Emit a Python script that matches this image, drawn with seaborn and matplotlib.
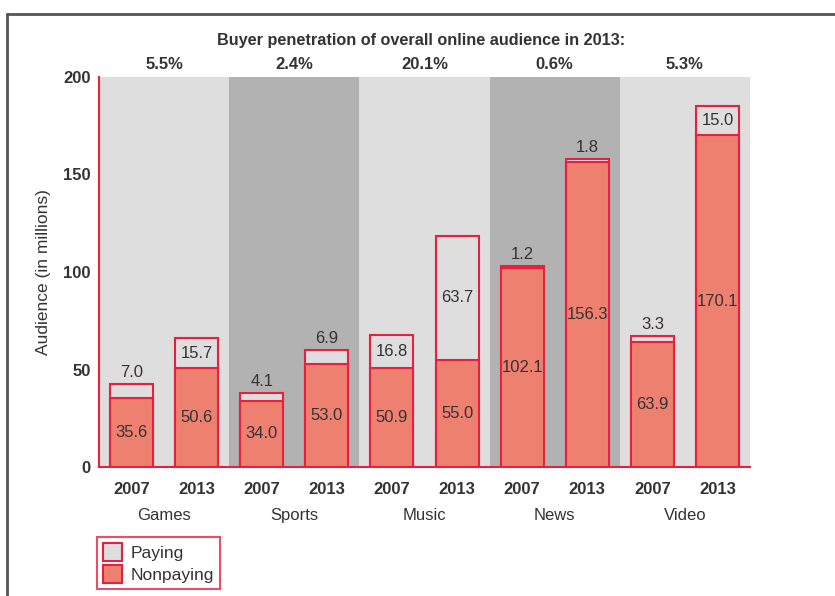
import matplotlib.pyplot as plt
import pandas as pd
import seaborn as sns
from matplotlib.lines import Line2D
from matplotlib.patches import Patch
from matplotlib.transforms import blended_transform_factory

categories = ["Games", "Sports", "Music", "News", "Video"]
years = ["2007", "2013"]
penetration = ["5.5%", "2.4%", "20.1%", "0.6%", "5.3%"]
nonpaying = [35.6, 50.6, 34.0, 53.0, 50.9, 55.0, 102.1, 156.3, 63.9, 170.1]
paying = [7.0, 15.7, 4.1, 6.9, 16.8, 63.7, 1.2, 1.8, 3.3, 15.0]

RED = "#e8203f"
SALMON = "#ee8070"
LIGHT = "#dedede"
DARK = "#b2b2b2"
TEXT = "#333333"
FS = 12

rows = []
for i, cat in enumerate(categories):
    for j, yr in enumerate(years):
        k = 2 * i + j
        rows.append({"slot": f"{cat} {yr}", "year": yr, "category": cat,
                     "nonpaying": nonpaying[k], "paying": paying[k],
                     "total": nonpaying[k] + paying[k]})
df = pd.DataFrame(rows)
order = list(df["slot"])

sns.set_theme(style="white")
plt.rcParams["font.family"] = ["Liberation Sans", "DejaVu Sans"]

fig = plt.figure(figsize=(8.35, 5.96), dpi=100)
ax = fig.add_axes([99 / 835, 1 - 467 / 596, (750 - 99) / 835, (467 - 77) / 596])

# alternating category bands
for i in range(len(categories)):
    ax.axvspan(2 * i - 0.5, 2 * i + 1.5, color=LIGHT if i % 2 == 0 else DARK, lw=0, zorder=0)

sns.barplot(data=df, x="slot", y="total", order=order, color=LIGHT, width=0.66,
            edgecolor=RED, linewidth=1.5, saturation=1, ax=ax, zorder=2)
sns.barplot(data=df, x="slot", y="nonpaying", order=order, color=SALMON, width=0.66,
            edgecolor=RED, linewidth=1.5, saturation=1, ax=ax, zorder=3)

for k, r in df.iterrows():
    ax.text(k, r["nonpaying"] / 2, f"{r['nonpaying']:.1f}", ha="center", va="center",
            fontsize=FS, color=TEXT, zorder=4)
    if r["paying"] >= 10:
        ax.text(k, r["nonpaying"] + r["paying"] / 2, f"{r['paying']:.1f}", ha="center",
                va="center", fontsize=FS, color=TEXT, zorder=4)
    else:
        ax.text(k, r["total"] + 2, f"{r['paying']:.1f}", ha="center", va="bottom",
                fontsize=FS, color=TEXT, zorder=4)

ax.set_xlim(-0.5, len(order) - 0.5)
ax.set_ylim(0, 200)
ax.set_yticks([0, 50, 100, 150, 200])
ax.set_yticklabels(["0", "50", "100", "150", "200"], fontweight="bold", fontsize=FS, color=TEXT)
ax.set_xticks(range(len(order)))
ax.set_xticklabels(df["year"], fontweight="bold", fontsize=FS, color=TEXT)
ax.tick_params(axis="both", length=0)
ax.tick_params(axis="x", pad=11)
ax.tick_params(axis="y", pad=6)
ax.set_xlabel("")
ax.set_ylabel("Audience (in millions)", fontsize=12.5, color=TEXT, labelpad=9)

for side in ["top", "right"]:
    ax.spines[side].set_visible(False)
for side in ["left", "bottom"]:
    ax.spines[side].set_color(RED)
    ax.spines[side].set_linewidth(1.5)
    ax.spines[side].set_zorder(5)

trans = blended_transform_factory(ax.transData, ax.transAxes)
for i, cat in enumerate(categories):
    ax.text(2 * i + 0.5, -0.125, cat, transform=trans, ha="center", va="center",
            fontsize=FS, color=TEXT)
    ax.text(2 * i + 0.5, 1.033, penetration[i], transform=trans, ha="center", va="center",
            fontsize=FS, fontweight="bold", color=TEXT)

fig.text(421 / 835, 1 - 40 / 596, "Buyer penetration of overall online audience in 2013:",
         ha="center", va="center", fontsize=11.7, fontweight="bold", color=TEXT)

handles = [Patch(facecolor=LIGHT, edgecolor=RED, linewidth=1.5, label="Paying"),
           Patch(facecolor=SALMON, edgecolor=RED, linewidth=1.5, label="Nonpaying")]
leg = fig.legend(handles=handles, loc="lower left", bbox_to_anchor=(97 / 835, 1 - 589 / 596),
                 fontsize=12.5, frameon=True, fancybox=False, handlelength=1.1, handleheight=1.2,
                 handletextpad=0.5, borderpad=0.35, labelspacing=0.25, borderaxespad=0)
leg.get_frame().set_edgecolor(RED)
leg.get_frame().set_linewidth(1.5)
for t in leg.get_texts():
    t.set_color(TEXT)

# page frame lines (top and left)
fig.add_artist(Line2D([7 / 835, 1], [1 - 14 / 596, 1 - 14 / 596], color="#555555", lw=2,
                      transform=fig.transFigure))
fig.add_artist(Line2D([7 / 835, 7 / 835], [0, 1 - 14 / 596], color="#555555", lw=2,
                      transform=fig.transFigure))

fig.savefig("out.png", dpi=100)
